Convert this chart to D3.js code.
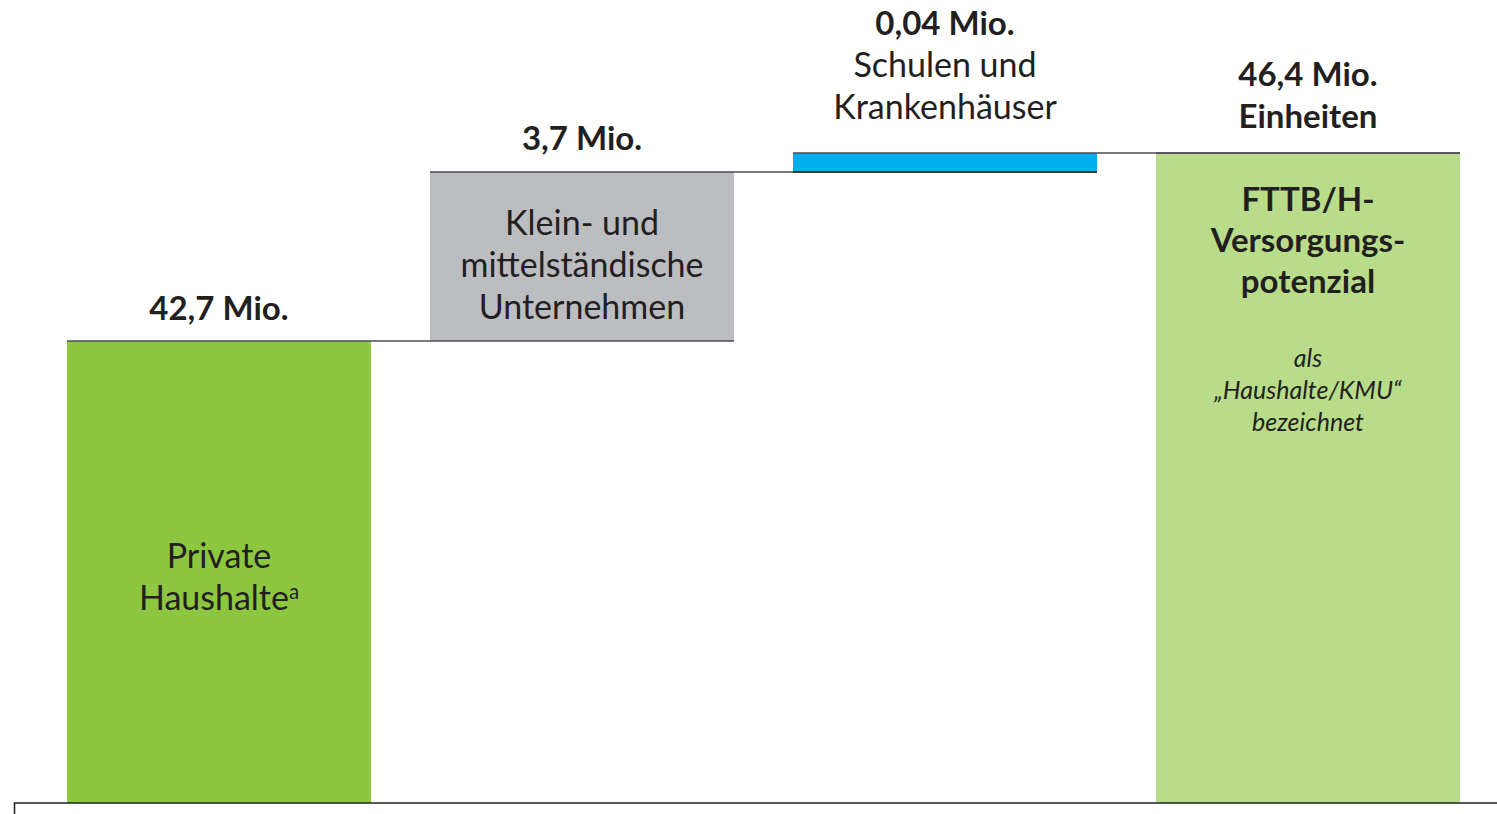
<!DOCTYPE html>
<html><head><meta charset="utf-8">
<script src="https://cdn.jsdelivr.net/npm/d3@7"></script>
<style>
html,body{margin:0;padding:0;background:#fff;}
svg{display:block;}
text{font-family:Lato,"Open Sans",sans-serif;fill:#231f20;}
</style></head>
<body>
<svg id="c" width="1497" height="814"></svg>
<script>
// ---- data ----
const categories = ["Private Haushalte", "KMU", "Schulen und Krankenhäuser", "Gesamt"];
const values = [42.7, 3.7, 0.04, 46.44];      // Mio.; last = total
const isTotal = [false, false, false, true];
const valueLabels = ["42,7 Mio.", "3,7 Mio.", "0,04 Mio.", "46,4 Mio."];
const colors = ["#8dc63f", "#bcbdc0", "#00aeef", "#b9dc8a"];
// schematic (non-proportional) axis stops used in the original
const yStops = [0, 42.7, 46.4, 46.44];

const svg = d3.select("#c");
const x = d3.scaleBand().domain(categories).range([67, 1460]).paddingInner(0.1625).paddingOuter(0);
const y = d3.scaleLinear().domain(yStops).range([803, 341, 172, 153]);

// compute waterfall segments
let cum = 0;
const segs = categories.map((c, i) => {
  let s;
  if (isTotal[i]) s = {c, y0: 0, y1: values[i]};
  else { s = {c, y0: cum, y1: cum + values[i]}; cum += values[i]; }
  return s;
});

// bars
svg.selectAll("rect.bar").data(segs).join("rect")
  .attr("x", d => x(d.c)).attr("width", x.bandwidth())
  .attr("y", d => y(d.y1)).attr("height", d => y(d.y0) - y(d.y1))
  .attr("fill", (d, i) => colors[i]);

// connector lines at top of each bar extending to next bar's right edge
segs.forEach((d, i) => {
  const x0 = x(d.c);
  const x1 = i < segs.length - 1 ? x(segs[i + 1].c) + x.bandwidth() : x0 + x.bandwidth();
  svg.append("line").attr("x1", x0).attr("x2", x1)
    .attr("y1", y(d.y1)).attr("y2", y(d.y1))
    .attr("stroke", "#4d4d4f").attr("stroke-width", 1.5);
});
// bottom line of blue bar
svg.append("line").attr("x1", x(categories[2])).attr("x2", x(categories[2]) + x.bandwidth())
  .attr("y1", y(segs[2].y0)).attr("y2", y(segs[2].y0)).attr("stroke", "#231f20").attr("stroke-width", 1.5);

// baseline
svg.append("path").attr("d", `M14.5,814 V${y(0)} H1497`).attr("fill", "none")
  .attr("stroke", "#231f20").attr("stroke-width", 1.5);

function lines(cx, baseY, arr, lh) {
  arr.forEach((l, k) => {
    const t = svg.append("text").attr("x", cx).attr("y", baseY + k * lh)
      .attr("text-anchor", "middle")
      .attr("font-size", l.size).attr("font-weight", l.bold ? 700 : 400)
      .attr("font-style", l.italic ? "italic" : "normal");
    t.text(l.t);
    if (l.sup) t.append("tspan").attr("font-size", l.size * 0.6).attr("dy", -11).text(l.sup);
  });
}
const cx = i => x(categories[i]) + x.bandwidth() / 2;

// labels
lines(cx(0), y(segs[0].y1) - 21, [{t: valueLabels[0], bold: true, size: 33}], 42);
lines(cx(0), 568, [{t: "Private", size: 34}, {t: "Haushalte", sup: "a", size: 34}], 42);

lines(cx(1), y(segs[1].y1) - 22, [{t: valueLabels[1], bold: true, size: 33}], 42);
lines(cx(1), 235, [{t: "Klein- und", size: 34}, {t: "mittelständische", size: 34}, {t: "Unternehmen", size: 34}], 42);

lines(cx(2), 35, [{t: valueLabels[2], bold: true, size: 33}, {t: "Schulen und", size: 34}, {t: "Krankenhäuser", size: 34}], 42);

lines(cx(3), 86, [{t: valueLabels[3], bold: true, size: 33}, {t: "Einheiten", bold: true, size: 33}], 42);
lines(cx(3), 211, [{t: "FTTB/H-", bold: true, size: 33}, {t: "Versorgungs-", bold: true, size: 33}, {t: "potenzial", bold: true, size: 33}], 41);
lines(cx(3), 367, [{t: "als", italic: true, size: 25}, {t: "„Haushalte/KMU“", italic: true, size: 25}, {t: "bezeichnet", italic: true, size: 25}], 32);
</script>
</body></html>
